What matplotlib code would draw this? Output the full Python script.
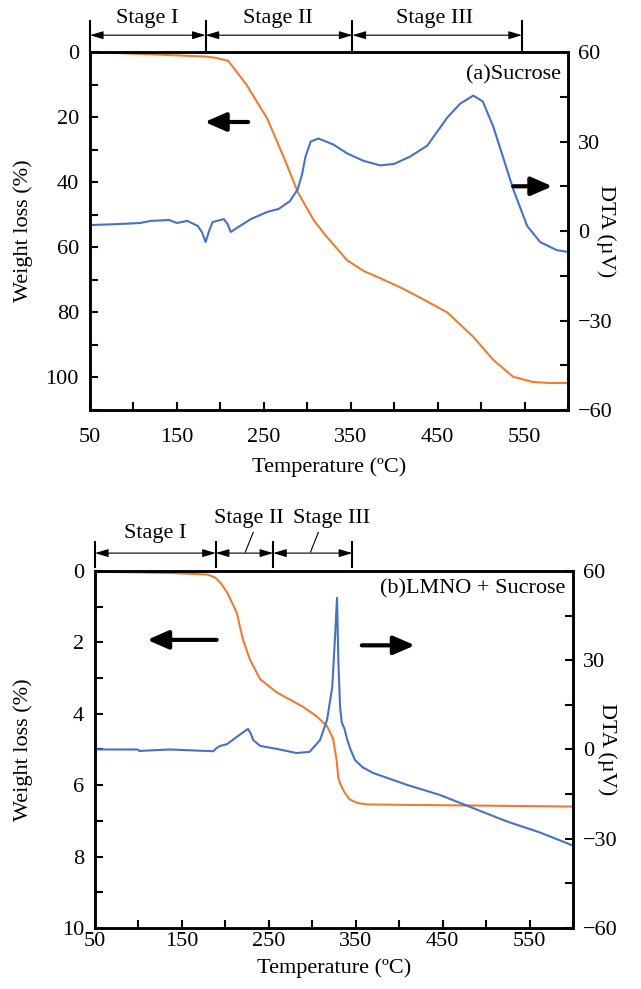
import matplotlib.pyplot as plt
from matplotlib.ticker import MultipleLocator

plt.rcParams['font.family'] = ['Liberation Serif', 'DejaVu Serif']
plt.rcParams['font.size'] = 16

ORANGE = '#ED7D31'
BLUE = '#4472C4'

# (a) Sucrose
temp_a_w = [50, 120, 183, 195, 209, 230, 254, 274, 289, 307, 320, 346, 365, 384,
            410, 430, 461, 491, 514, 537, 560, 580, 600]
weight_a = [0, 0.7, 1.4, 1.8, 2.7, 10, 20.5, 33, 43, 51.5, 56, 64, 67.3, 69.5,
            72.7, 75.5, 80, 87.5, 94.6, 99.8, 101.4, 101.7, 101.7]
temp_a_d = [50, 80, 108, 120, 141, 150, 162, 174, 179, 183, 187, 191, 204, 208,
            212, 220, 235, 254, 267, 280, 289, 294, 298, 304, 313, 330, 346, 365,
            384, 400, 418, 438, 461, 476, 491, 502, 514, 525, 537, 553, 568, 587, 600]
dta_a = [2, 2.3, 2.7, 3.4, 3.7, 2.7, 3.4, 1.7, -0.5, -3.7, 0, 3, 4, 2.5,
         -0.3, 1.2, 4, 6.4, 7.4, 10, 14, 19, 25, 30, 31, 29, 26, 23.5,
         22, 22.5, 24.9, 28.6, 38, 42.7, 45.4, 43.4, 35, 25, 14, 1.7, -3.7, -6.4, -7]

# (b) LMNO + Sucrose
temp_b_w = [50, 97, 140, 179, 188, 195, 202, 213, 220, 228, 240, 259, 289, 305,
            317, 324, 328, 330, 332, 337, 343, 352, 363, 400, 485, 600]
weight_b = [0.02, 0.04, 0.06, 0.1, 0.18, 0.35, 0.6, 1.16, 1.9, 2.47, 3.03, 3.4, 3.8, 4.07,
            4.35, 4.7, 5.3, 5.8, 5.95, 6.2, 6.4, 6.5, 6.54, 6.55, 6.57, 6.6]
temp_b_d = [50, 99, 101, 136, 186, 190, 194, 202, 213, 226, 229, 232, 240, 259,
            282, 297, 309, 317, 323, 326, 328.5, 330, 332, 334, 337, 340, 344, 349,
            358, 370, 409, 447, 485, 524, 562, 600]
dta_b = [0, 0, -0.5, 0, -0.6, 0.5, 1.2, 1.8, 4.2, 6.9, 5.5, 3.2, 1.2, 0.2,
         -1.2, -0.8, 3.2, 9.9, 21, 36.8, 51, 30, 14.3, 9, 7, 3.5, 0, -3.5,
         -6, -7.9, -11.9, -15.3, -19.7, -24.2, -27.9, -32.3]

stages_a = [50, 183, 352, 547]
stages_b = [50, 189, 255, 346]
xticks = list(range(50, 601, 50))
xlabels = [str(t) if (t - 50) % 100 == 0 and t < 600 else '' for t in xticks]

fig = plt.figure(figsize=(6.41, 9.89), dpi=100)
ax1 = fig.add_axes([0.1404, 0.5854, 0.7457, 0.362])
ax2 = fig.add_axes([0.1482, 0.0617, 0.7457, 0.361])


def setup(ax, wmax, wmajor, wminor, xpad, xlpad, lx, rx):
    ax.set_xlim(50, 600)
    ax.set_ylim(wmax, 0)
    ax.set_xticks(xticks)
    ax.set_xticklabels(xlabels)
    ax.yaxis.set_major_locator(MultipleLocator(wmajor))
    ax.yaxis.set_minor_locator(MultipleLocator(wminor))
    ax.tick_params(which='both', direction='in', length=6, width=1.5)
    ax.tick_params(axis='x', pad=xpad)
    ax.tick_params(axis='y', pad=8)
    ax.set_xlabel('Temperature (ºC)', labelpad=xlpad)
    ax.set_ylabel('Weight loss (%)')
    ax.yaxis.set_label_coords(lx, 0.5)
    axr = ax.twinx()
    axr.set_ylim(-60, 60)
    axr.yaxis.set_major_locator(MultipleLocator(30))
    axr.yaxis.set_minor_locator(MultipleLocator(15))
    axr.tick_params(which='both', direction='in', length=6, width=1.5, pad=7)
    axr.set_ylabel('DTA (µV)', rotation=-90, va='center')
    axr.yaxis.set_label_coords(rx, 0.5)
    for a in (ax, axr):
        for s in a.spines.values():
            s.set_linewidth(1.8)
    return axr


def stage_marks(ax, xs, names, y_line, y_arrow, text_pos, leaders):
    for x in xs:
        ax.plot([x, x], y_line, color='k', lw=1.5, clip_on=False,
                transform=ax.get_xaxis_transform())
    for x0, x1 in zip(xs[:-1], xs[1:]):
        ax.annotate('', xy=(x1, y_arrow), xytext=(x0, y_arrow),
                    xycoords=ax.get_xaxis_transform(), textcoords=ax.get_xaxis_transform(),
                    arrowprops=dict(arrowstyle='<|-|>,head_length=0.5,head_width=0.15',
                                    color='k', lw=0.8, shrinkA=0, shrinkB=0))
    for name, (tx, ty) in zip(names, text_pos):
        ax.text(tx, ty, name, ha='center', va='center',
                transform=ax.get_xaxis_transform())
    for (lx0, ly0, lx1, ly1) in leaders:
        ax.plot([lx0, lx1], [ly0, ly1], color='k', lw=0.8, clip_on=False,
                transform=ax.get_xaxis_transform())


def big_arrow(ax, x0, x1, y):
    ax.annotate('', xy=(x1, y), xytext=(x0, y),
                arrowprops=dict(arrowstyle='-|>,head_length=0.8,head_width=0.35',
                                color='k', lw=3, shrinkA=0, shrinkB=0))


# top panel
ax1r = setup(ax1, 110, 20, 10, 13, 7, -0.119, 1.08)
ax1.plot(temp_a_w, weight_a, color=ORANGE, lw=1.5)
ax1r.plot(temp_a_d, dta_a, color=BLUE, lw=1.5)
ax1.text(0.985, 0.935, '(a)Sucrose', ha='right', va='center', transform=ax1.transAxes)
big_arrow(ax1, 232, 182, 21.5)
big_arrow(ax1r, 537, 582, 15)
stage_marks(ax1, stages_a, ['Stage I', 'Stage II', 'Stage III'],
            [1.0, 1.087], 1.047,
            [(116, 1.095), (266, 1.095), (446, 1.095)], [])

# bottom panel
ax2r = setup(ax2, 10, 2, 1, 3, 5, -0.13, 1.07)
ax2.plot(temp_b_w, weight_b, color=ORANGE, lw=1.5)
ax2r.plot(temp_b_d, dta_b, color=BLUE, lw=1.5)
ax2.text(0.985, 0.95, '(b)LMNO + Sucrose', ha='right', va='center', transform=ax2.transAxes)
big_arrow(ax2, 190, 110, 1.93)
big_arrow(ax2r, 357, 418, 35)
stage_marks(ax2, stages_b, ['Stage I', 'Stage II', 'Stage III'],
            [1.011, 1.081], 1.05,
            [(119, 1.106), (227, 1.148), (322, 1.148)],
            [(232, 1.108, 223, 1.053), (307, 1.108, 298, 1.053)])

fig.savefig('out.png', dpi=100)
